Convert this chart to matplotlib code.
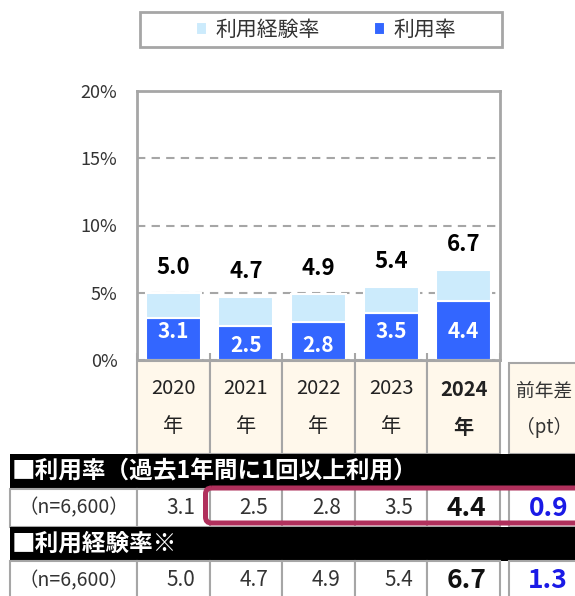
import numpy as np
import matplotlib
matplotlib.use("Agg")
import matplotlib.pyplot as plt
from matplotlib.patches import Rectangle, FancyBboxPatch

plt.rcParams['font.family'] = ['Noto Sans CJK JP', 'DejaVu Sans']

# data
years = ['2020', '2021', '2022', '2023', '2024']
usage = [3.1, 2.5, 2.8, 3.5, 4.4]          # 利用率
experience = [5.0, 4.7, 4.9, 5.4, 6.7]     # 利用経験率
diff_usage = 0.9
diff_experience = 1.3
sample_label = '（n=6,600）'
row_titles = ['■利用率（過去1年間に1回以上利用）', '■利用経験率※']
yticks = [0, 5, 10, 15, 20]

DARK = '#3366FF'
LIGHT = '#CCEBFC'
CREAM = '#FFF8EB'
GREY = '#A6A6A6'
MAGENTA = '#B0305C'
BLUE_TXT = '#1A1AE6'

W, H = 575, 596
fig = plt.figure(figsize=(W / 100, H / 100), dpi=100)

# background axes in pixel coords (y down) for legend box and table
bg = fig.add_axes([0, 0, 1, 1])
bg.set_xlim(0, W)
bg.set_ylim(H, 0)
bg.axis('off')

left, right, top, bottom = 137, 500, 91, 360
colw = (right - left) / len(years)

ax = fig.add_axes([left / W, 1 - bottom / H, (right - left) / W, (bottom - top) / H])
x = np.arange(len(years))
bw = 0.76
b_use = ax.bar(x, usage, bw, color=DARK, edgecolor='white', linewidth=1.5, zorder=2)
b_exp = ax.bar(x, np.subtract(experience, usage), bw, bottom=usage, color=LIGHT,
               edgecolor='white', linewidth=1.5, zorder=2)

ax.set_xlim(-0.5, len(years) - 0.5)
ax.set_ylim(0, 20)
ax.set_yticks(yticks)
ax.set_yticklabels([f'{v}%' for v in yticks])
ax.tick_params(axis='y', length=0, pad=14, labelsize=13, labelcolor='#333333')
ax.set_xticks([])
ax.set_xticks(np.arange(len(years) + 1) - 0.5, minor=True)
ax.tick_params(axis='x', which='minor', direction='in', length=5, width=1.5, color=GREY)
ax.set_axisbelow(True)
ax.yaxis.grid(True, linestyle=(0, (4, 3)), color=GREY, linewidth=1.5)
for s in ax.spines.values():
    s.set_color(GREY)
    s.set_linewidth(2)

for i, (u, e) in enumerate(zip(usage, experience)):
    ax.text(i, e + 1.9, f'{e:.1f}', ha='center', va='center', fontsize=16, fontweight='bold')
    ax.text(i, 2.1 if u >= 3 else 1.05, f'{u:.1f}', ha='center', va='center',
            fontsize=15, fontweight='bold', color='white')

# legend
bg.add_patch(Rectangle((140, 12), 362, 35, fc='white', ec=GREY, lw=2))
fig.legend([b_exp, b_use], ['利用経験率', '利用率'], loc='center',
           bbox_to_anchor=(326 / W, 1 - 30 / H), ncol=2, frameon=False,
           fontsize=15, handlelength=0.55, handleheight=0.55, handletextpad=0.4,
           columnspacing=2.6, labelcolor='#333333')

# year header cells
for i, yr in enumerate(years):
    x0 = left + i * colw
    bg.add_patch(Rectangle((x0, 361), colw, 93, fc=CREAM, ec=GREY, lw=1.5))
    w = 'bold' if i == len(years) - 1 else 'normal'
    bg.text(x0 + colw / 2, 389, yr, ha='center', va='center', fontsize=14.5, fontweight=w,
            color='#222222')
    bg.text(x0 + colw / 2, 427, '年', ha='center', va='center', fontsize=14.5, fontweight=w,
            color='#222222')

# diff header cell
dx0 = 509
bg.add_patch(Rectangle((dx0, 363), 100, 91, fc=CREAM, ec=GREY, lw=1.5))
bg.text(544, 391, '前年差', ha='center', va='center', fontsize=13.5, color='#333333')
bg.text(544, 427, '（pt）', ha='center', va='center', fontsize=13.5, color='#333333')

# table rows
rows = [(454, 489, 527, usage, diff_usage), (527, 561, 600, experience, diff_experience)]
for (hy, dy0, dy1, vals, dv), title in zip(rows, row_titles):
    bg.add_patch(Rectangle((10, hy), 600, dy0 - hy, fc='black', ec='none'))
    bg.text(12, (hy + dy0) / 2, title, ha='left', va='center', fontsize=17,
            fontweight='bold', color='white')
    bg.add_patch(Rectangle((10, dy0), left - 10, dy1 - dy0, fc='white', ec=GREY, lw=1.5))
    bg.text((10 + left) / 2, (dy0 + dy1) / 2, sample_label, ha='center', va='center',
            fontsize=14, color='#333333')
    for i, v in enumerate(vals):
        x0 = left + i * colw
        bg.add_patch(Rectangle((x0, dy0), colw, dy1 - dy0, fc='white', ec=GREY, lw=1.5))
        last = i == len(vals) - 1
        bg.text(x0 + colw - 14, (dy0 + dy1) / 2, f'{v:.1f}', ha='right', va='center',
                fontsize=19 if last else 15, fontweight='bold' if last else 'normal',
                color='#111111' if last else '#333333')
    bg.add_patch(Rectangle((dx0, dy0), 100, dy1 - dy0, fc='white', ec=GREY, lw=1.5))
    bg.text(568, (dy0 + dy1) / 2, f'{dv:.1f}', ha='right', va='center', fontsize=19,
            fontweight='semibold', color=BLUE_TXT)

# highlight box around 2021-2024 and diff (利用率)
bg.add_patch(FancyBboxPatch((205.5, 488), 420, 35, boxstyle='round,pad=0,rounding_size=6',
                            fc='none', ec=MAGENTA, lw=3.6, clip_on=False))

fig.savefig('out.png', dpi=100)
